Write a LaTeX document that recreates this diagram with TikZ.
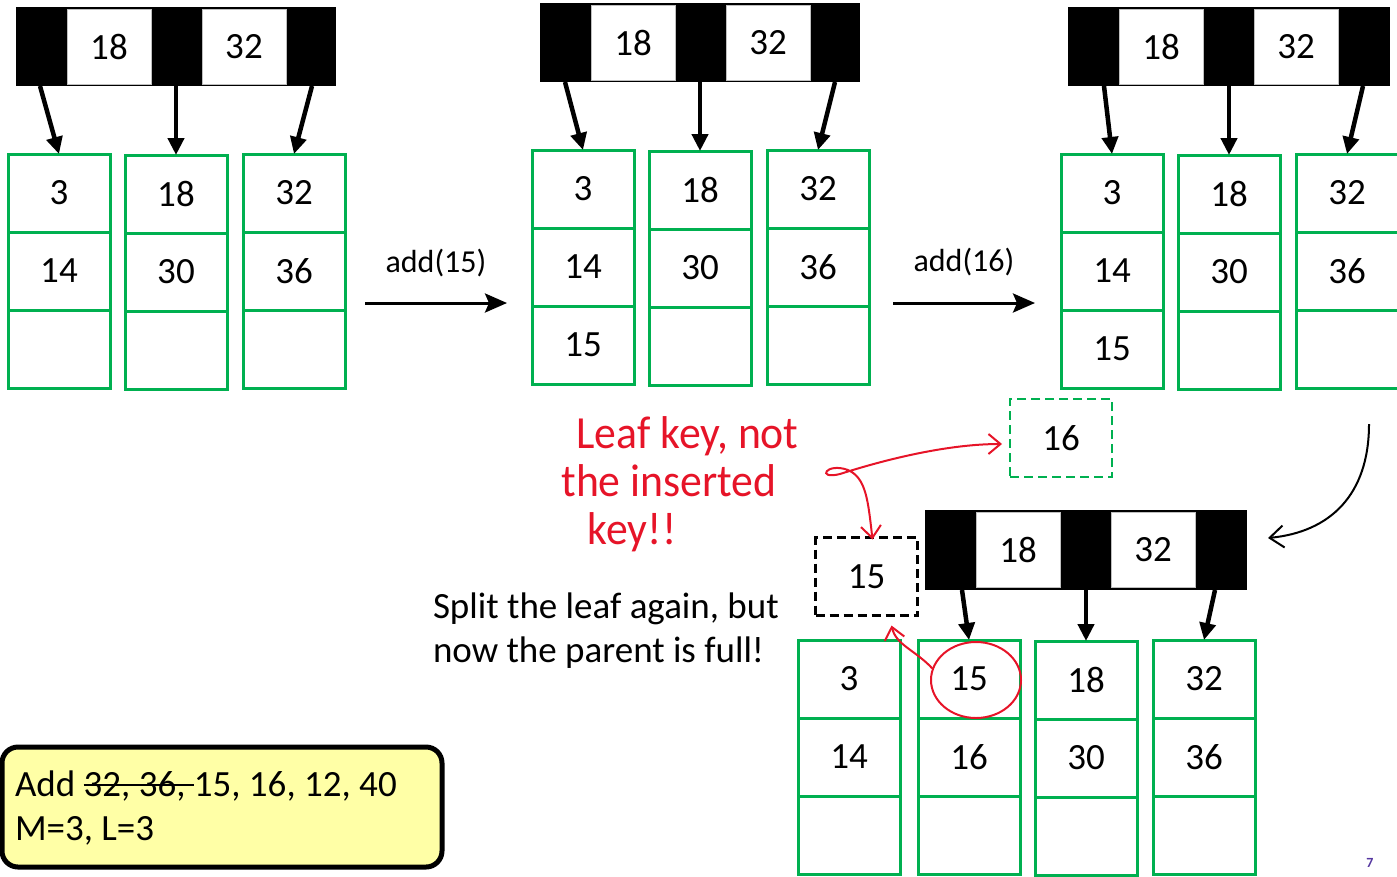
\documentclass[tikz,border=0pt]{standalone}
\usepackage{fontspec}
\setmainfont{Carlito}
\usetikzlibrary{arrows.meta,shapes.geometric}
\definecolor{leafgreen}{RGB}{0,176,80}
\definecolor{notered}{RGB}{230,20,40}
\definecolor{noteyellow}{RGB}{255,255,166}
\definecolor{pagepurple}{RGB}{85,55,160}
\newcommand\bigfont{\fontsize{37}{44}\selectfont}
\newcommand\addfont{\fontsize{32}{38}\selectfont}
\newcommand\handfont{\fontsize{46}{48}\selectfont}
\newsavebox\strkbox
\newcommand\mystrike[1]{\sbox\strkbox{#1}\rlap{\rule[0.29em]{\wd\strkbox}{1.6pt}}\usebox\strkbox}
\tikzset{
  cell/.style={draw=leafgreen, line width=3pt, rectangle, minimum width=102pt,
    minimum height=78pt, inner sep=0pt, outer sep=0pt, font=\bigfont},
  inblack/.style={fill=black, rectangle, minimum height=79pt, inner sep=0pt, outer sep=0pt},
  keybox/.style={fill=white, draw=gray!50, line width=0.8pt, rectangle, minimum width=84pt,
    minimum height=75pt, inner sep=0pt, outer sep=0pt, font=\bigfont},
  ptr/.style={line width=4.5pt, -{Triangle[length=17pt,width=16pt]}},
  addarrow/.style={line width=3pt, -{Stealth[length=22pt,width=19pt,inset=4pt]}},
  curvearrow/.style={line width=2pt, -{Straight Barb[length=14pt,width=22pt]}},
  redline/.style={draw=notered, line width=2pt},
  redarrow/.style={redline, -{Straight Barb[length=12pt,width=20pt]}},
  dashbox/.style={rectangle, dash pattern=on 9pt off 5pt, line width=2.5pt,
    minimum width=102pt, minimum height=78pt, inner sep=0pt, outer sep=0pt, font=\bigfont},
  plain/.style={inner sep=0pt, outer sep=0pt},
  hand/.style={plain, font=\handfont, text=notered, xscale=0.95, align=left},
}
\newcommand\leafcol[6]{%
  \node[cell, anchor=north west] (#1a) at (#2,#3) {#4};
  \node[cell, anchor=north] (#1b) at (#1a.south) {#5};
  \node[cell, anchor=north] (#1c) at (#1b.south) {#6};
}
\newcommand\innernode[5]{%
  \node[inblack, anchor=north west, minimum width=#4, minimum height=#5] (#1) at (#2,#3) {};
  \node[keybox, anchor=north west] (#1k1) at ([xshift=51pt,yshift=-2pt]#1.north west) {18};
  \node[keybox, anchor=north west] (#1k2) at ([xshift=186pt,yshift=-2pt]#1.north west) {32};
}
\begin{document}
\begin{tikzpicture}[x=1pt,y=-1pt]
\useasboundingbox (0,0) rectangle (1397,876);
% ---------- tree 1 ----------
\innernode{ta}{16}{7}{320pt}{79pt}
\leafcol{la}{8}{154}{3}{14}{}
\leafcol{lb}{125}{155}{18}{30}{}
\leafcol{lc}{243}{154}{32}{36}{}
\draw[ptr] ([xshift=24pt]ta.south west) -- (laa.north);
\draw[ptr] ([xshift=160pt]ta.south west) -- (lba.north);
\draw[ptr] ([xshift=296pt]ta.south west) -- (lca.north);
% add(15)
\node[font=\addfont] (add15) at (436,263) {add(15)};
\coordinate (a15s) at (365,303);
\coordinate (a15e) at (507,303);
\draw[addarrow] (a15s) -- (a15e);
% ---------- tree 2 ----------
\innernode{tb}{540}{3}{320pt}{79pt}
\leafcol{ma}{532}{150}{3}{14}{15}
\leafcol{mb}{649}{151}{18}{30}{}
\leafcol{mc}{767}{150}{32}{36}{}
\draw[ptr] ([xshift=25pt]tb.south west) -- (maa.north);
\draw[ptr] ([xshift=160pt]tb.south west) -- (mba.north);
\draw[ptr] ([xshift=295pt]tb.south west) -- (mca.north);
% add(16)
\node[font=\addfont] (add16) at (964,262) {add(16)};
\coordinate (a16s) at (893,303);
\coordinate (a16e) at (1035,303);
\draw[addarrow] (a16s) -- (a16e);
% ---------- tree 3 ----------
\innernode{tc}{1068}{7}{322pt}{79pt}
\leafcol{na}{1061}{154}{3}{14}{15}
\leafcol{nb}{1178}{155}{18}{30}{}
\leafcol{nc}{1296}{154}{32}{36}{}
\draw[ptr] ([xshift=36pt]tc.south west) -- (naa.north);
\draw[ptr] ([xshift=161pt]tc.south west) -- (nba.north);
\draw[ptr] ([xshift=295pt]tc.south west) -- (nca.north);
% ---------- split pieces ----------
\node[dashbox, draw=leafgreen] (d16) at (1061,438) {16};
\node[dashbox, draw=black] (d15) at (866.5,576.5) {15};
% ---------- tree 4 ----------
\innernode{td}{925}{510}{322pt}{80pt}
\leafcol{qa}{798}{640}{3}{14}{}
\leafcol{qb}{918}{640}{15}{16}{}
\leafcol{qc}{1035}{641}{18}{30}{}
\leafcol{qd}{1153}{640}{32}{36}{}
\draw[ptr] ([xshift=37pt]td.south west) -- (qba.north);
\draw[ptr] ([xshift=161pt]td.south west) -- (qca.north);
\draw[ptr] ([xshift=290pt]td.south west) -- (qda.north);
% curved arrow from tree 3 to tree 4
\coordinate (cstart) at (1369,424);
\draw[curvearrow] (cstart) .. controls (1369,495) and (1330,532) .. ([xshift=21pt,yshift=12pt]td.east);
% ---------- explanation text ----------
\node[plain, font=\bigfont, align=left, anchor=west] (split) at (433,631)
  {Split the leaf again, but\\now the parent is full!};
% ---------- red annotations ----------
\node[hand] (note) at (680,484)
  {\hspace*{16pt}Leaf key, not\\the inserted\\\hspace*{28pt}key!!};
\node[draw=notered, line width=2pt, ellipse, minimum width=90pt, minimum height=76pt, inner sep=0pt] (circ) at (976,680) {};
\draw[redarrow] (circ.165) .. controls (915,650) and (896,645) .. ([xshift=25pt,yshift=-10pt]d15.south);
\draw[redline, {Straight Barb[length=12pt,width=20pt]}-{Straight Barb[length=12pt,width=20pt]}]
  ([xshift=6pt,yshift=-2pt]d15.north) .. controls (868,500) and (866,478) .. (848,470)
  .. controls (826,462) and (816,480) .. (840,474)
  .. controls (890,458) and (950,444) .. ([xshift=-8pt,yshift=-6pt]d16.west);
% ---------- info box ----------
\node[draw=black, line width=5pt, fill=noteyellow, rounded corners=16pt, minimum width=440pt,
  minimum height=120pt, inner sep=0pt, outer sep=0pt] (info) at (222,807) {};
\node[plain, font=\bigfont, align=left, anchor=west] (infotext) at (15,808)
  {Add \mystrike{32, 36, }15, 16, 12, 40\\M=3, L=3};
% page number
\node[plain, font=\fontsize{14}{16}\selectfont\bfseries, text=pagepurple] (pg) at (1370,863) {7};
\end{tikzpicture}
\end{document}
